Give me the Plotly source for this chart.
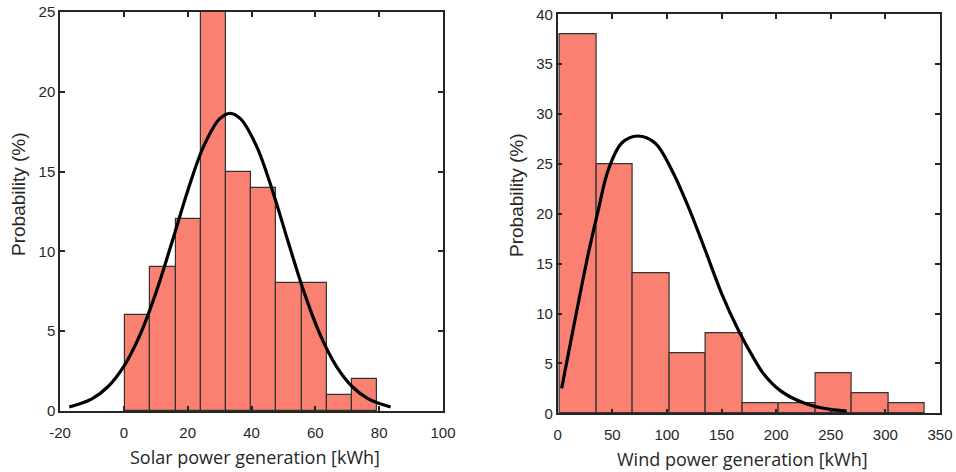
import plotly.graph_objects as go

# ---- Solar (left) ----
solar_edges = [0.4, 8.3, 16.2, 24.1, 32.0, 39.9, 47.8, 55.7, 63.6, 71.5, 79.4]
solar_prob = [6, 9, 12, 25, 15, 14, 8, 8, 1, 2]
solar_fit_x = [-17.1, -10, -5, 0, 5, 10, 15, 20, 25, 30, 33.3, 36.6, 41.6, 46.6,
               51.6, 56.6, 61.6, 66.6, 71.6, 76.6, 83.6]
solar_fit_y = [0.25, 0.76, 1.52, 2.80, 4.74, 7.37, 10.52, 13.79, 16.58, 18.30, 18.65,
               18.30, 16.58, 13.79, 10.52, 7.37, 4.74, 2.80, 1.52, 0.76, 0.25]
solar_ticks = [-20, 0, 20, 40, 60, 80, 100]
solar_ticklabels = ["-20", "0", "20", "40", "60", "80", "100"]

# ---- Wind (right) ----
wind_edges = [2.1, 35.5, 68.9, 102.3, 135.7, 169.1, 202.5, 235.9, 269.3, 302.7, 336.1]
wind_prob = [38, 25, 14, 6, 8, 1, 1, 4, 2, 1]
wind_fit_x = [3.6, 15.8, 28.0, 37.2, 46.3, 58.6, 73.2, 89.1, 104.4, 119.6, 134.9,
              150.1, 166.0, 180.6, 188.2, 203.5, 218.8, 234.1, 249.3, 264.6]
wind_fit_y = [2.5, 9.35, 16.0, 20.4, 24.4, 27.1, 27.8, 27.1, 24.4, 20.7, 16.4,
              12.0, 8.2, 5.3, 4.0, 2.3, 1.33, 0.73, 0.4, 0.23]

BAR_COLOR = "#FA8072"
EDGE = "#333333"
AXC = "#262626"


def centers(edges):
    return [(a + b) / 2 for a, b in zip(edges[:-1], edges[1:])]


def widths(edges):
    return [b - a for a, b in zip(edges[:-1], edges[1:])]


fig = go.Figure()
fig.add_trace(go.Bar(x=centers(solar_edges), y=solar_prob, width=widths(solar_edges),
                     marker=dict(color=BAR_COLOR, line=dict(color=EDGE, width=1.2)),
                     xaxis="x", yaxis="y", showlegend=False))
fig.add_trace(go.Scatter(x=solar_fit_x, y=solar_fit_y, mode="lines",
                         line=dict(color="black", width=3.2, shape="spline"),
                         xaxis="x", yaxis="y", showlegend=False))
fig.add_trace(go.Bar(x=centers(wind_edges), y=wind_prob, width=widths(wind_edges),
                     marker=dict(color=BAR_COLOR, line=dict(color=EDGE, width=1.2)),
                     xaxis="x2", yaxis="y2", showlegend=False))
fig.add_trace(go.Scatter(x=wind_fit_x, y=wind_fit_y, mode="lines",
                         line=dict(color="black", width=3.2, shape="spline"),
                         xaxis="x2", yaxis="y2", showlegend=False))

W, H = 956, 472
tickfont = dict(family="Liberation Sans, Arial, sans-serif", size=15, color=AXC)
xtitlefont = dict(family="Open Sans, Noto Sans, sans-serif", size=18, color=AXC)
ytitlefont = dict(family="Liberation Sans, Arial, sans-serif", size=19, color=AXC)

common = dict(showline=True, linecolor=AXC, linewidth=1.5, mirror="ticks",
              ticks="inside", ticklen=5, tickwidth=1.5, tickcolor=AXC,
              showgrid=False, zeroline=False, tickfont=tickfont, automargin=False)

fig.update_layout(
    width=W, height=H,
    margin=dict(l=0, r=0, t=0, b=0),
    paper_bgcolor="white", plot_bgcolor="white",
    bargap=0,
    xaxis=dict(domain=[60 / W, 443 / W], range=[-20, 100],
               tickmode="array", tickvals=solar_ticks, ticktext=solar_ticklabels,
               ticklabelstandoff=7, anchor="y", **common),
    yaxis=dict(domain=[(H - 411) / H, (H - 12) / H], range=[0, 25], dtick=5,
               anchor="x", **common),
    xaxis2=dict(domain=[557.7 / W, 940 / W], range=[0, 350], dtick=50,
                ticklabelstandoff=7, anchor="y2", **common),
    yaxis2=dict(domain=[(H - 413.3) / H, (H - 14.3) / H], range=[0, 40], dtick=5,
                anchor="x2", **common),
)

titles = [
    ("Solar power generation [kWh]", 255, 457, 0, xtitlefont),
    ("Wind power generation [kWh]", 742, 459, 0, xtitlefont),
    ("Probability (%)", 18, 194, -90, ytitlefont),
    ("Probability (%)", 516, 195, -90, ytitlefont),
]
for text, px, py, ang, font in titles:
    fig.add_annotation(text=text, x=px / W, y=1 - py / H, xref="paper", yref="paper",
                       xanchor="center", yanchor="middle", showarrow=False,
                       textangle=ang, font=font)

fig.write_html("out.html")
